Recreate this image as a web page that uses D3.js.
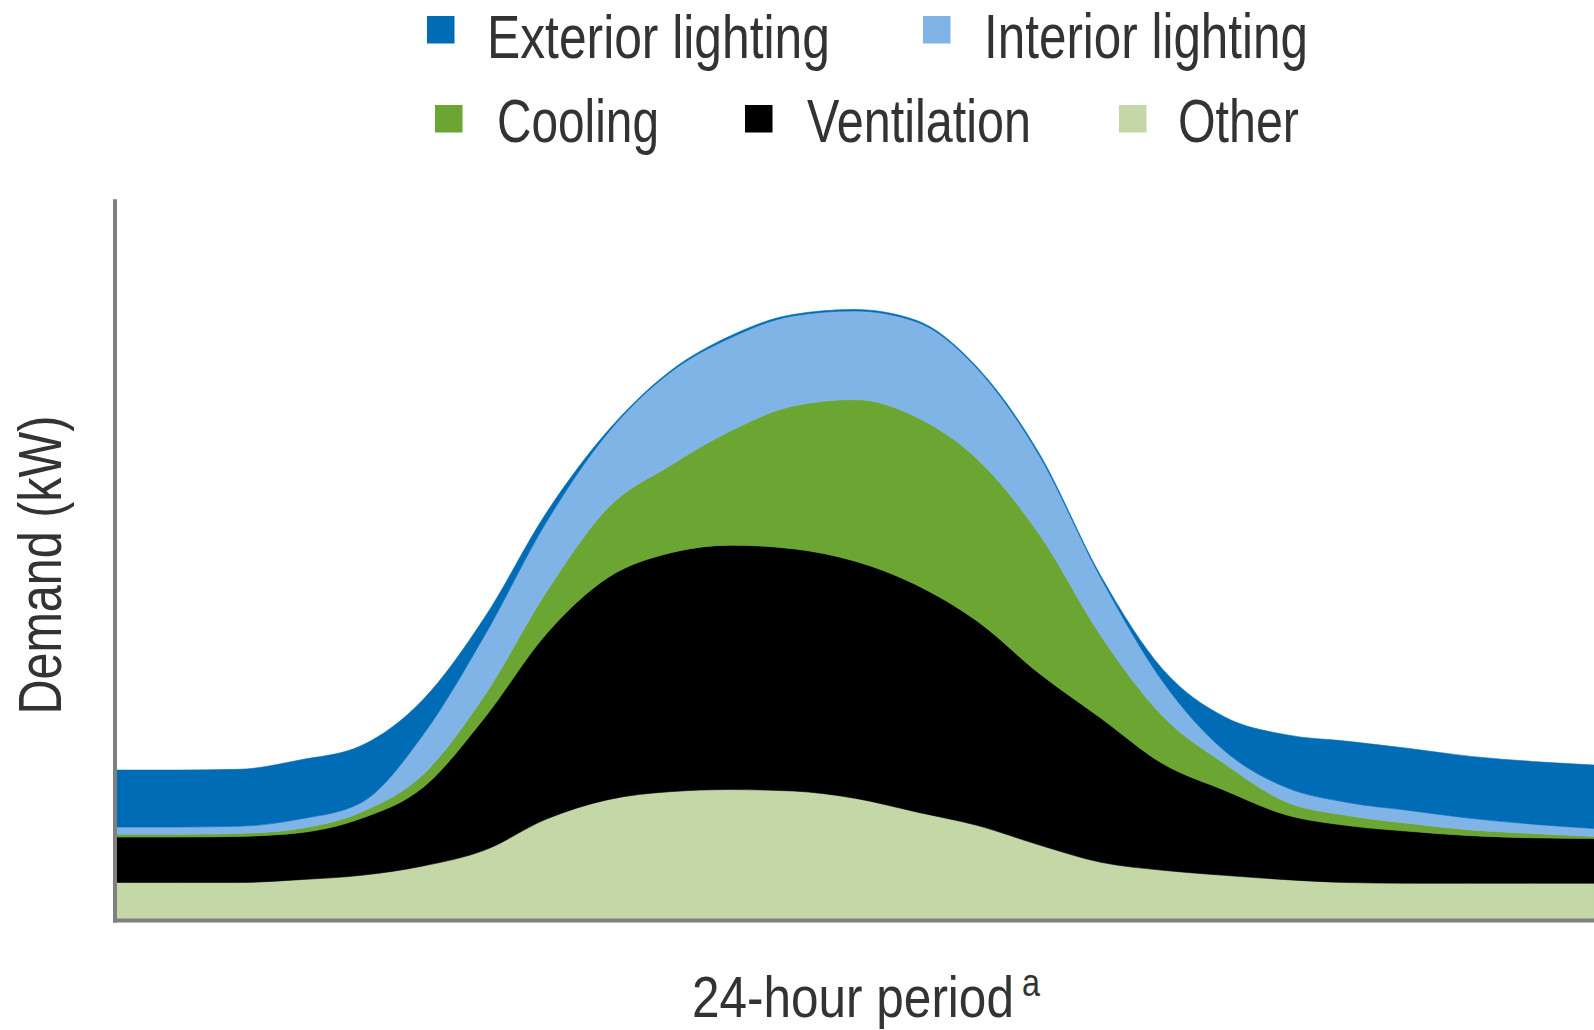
<!DOCTYPE html>
<html>
<head>
<meta charset="utf-8">
<script src="https://cdn.jsdelivr.net/npm/d3@7"></script>
<style>
  html, body { margin: 0; padding: 0; background: #fff; }
  svg { display: block; }
  text { font-family: "Liberation Sans Narrow", "Liberation Sans", Arial, sans-serif; fill: #333; }
</style>
</head>
<body>
<svg id="chart" width="1594" height="1030"></svg>
<script>
// ---- Data ----
const hours = [0,1,2,3,4,5,6,7,8,9,10,11,12,13,14,15,16,17,18,19,20,21,22,23,24];
const other            = [5.2,5.2,5.2,5.6,6.2,7.5,9.7,14.0,16.7,17.8,18.1,17.9,16.9,15.0,13.1,10.4,8.0,6.9,6.2,5.6,5.2,5.1,5.1,5.1,5.1];
const ventilation      = [6.3,6.3,6.4,6.5,7.9,10.9,18.4,25.7,30.8,33.1,33.9,33.6,32.9,31.5,28.3,23.8,20.0,14.8,11.8,9.0,7.9,7.2,6.6,6.3,6.2];
const cooling          = [0.4,0.4,0.4,0.6,0.9,1.8,3.1,5.8,9.7,12.1,15.9,19.8,22.4,23.3,22.5,19.3,11.4,6.6,3.7,1.8,1.4,1.1,0.8,0.6,0.3];
const interiorLighting = [1.0,1.0,1.0,1.3,1.3,5.5,8.3,9.7,10.4,12.9,12.9,12.5,12.3,13.2,12.5,10.9,8.0,4.8,1.8,2.0,1.8,1.8,1.6,1.3,1.1];
const exteriorLighting = [7.9,7.9,7.9,8.2,7.9,4.9,2.5,1.3,0.3,0.2,0.3,0.2,0.2,0.2,0.2,0.3,0.3,1.7,4.7,7.3,8.5,8.6,8.6,8.7,8.8];

const seriesKeys   = ["Other", "Ventilation", "Cooling", "Interior lighting", "Exterior lighting"];
const seriesColors = ["#c4d7a6", "#000000", "#6ca632", "#80b4e6", "#006cb5"];
const legendRow1 = ["Exterior lighting", "Interior lighting"];
const legendRow2 = ["Cooling", "Ventilation", "Other"];
const xAxisTitle = "24-hour period";
const xAxisNote = "a";
const yAxisTitle = "Demand (kW)";

// ---- Build table ----
const seriesValues = [other, ventilation, cooling, interiorLighting, exteriorLighting];
const table = hours.map((h, i) => {
  const row = { hour: h };
  seriesKeys.forEach((k, j) => { row[k] = seriesValues[j][i]; });
  return row;
});
const colorOf = d3.scaleOrdinal().domain(seriesKeys).range(seriesColors);

const svg = d3.select("#chart");

const x = d3.scaleLinear().domain([0, 24]).range([115, 1594]);
const y = d3.scaleLinear().domain([0, 100]).range([920, 199.2]);

const stacked = d3.stack().keys(seriesKeys)(table);
const area = d3.area()
  .x(d => x(d.data.hour))
  .y0(d => y(d[0]))
  .y1(d => y(d[1]))
  .curve(d3.curveMonotoneX);

svg.append("g")
  .selectAll("path")
  .data(stacked)
  .join("path")
  .attr("d", area)
  .attr("fill", d => colorOf(d.key))
  .attr("stroke", d => colorOf(d.key))
  .attr("stroke-width", 0.6);

// ---- Axes (lines only, no ticks) ----
const yAxis = d3.axisLeft(y).tickValues([]).tickSizeOuter(0);
const xAxis = d3.axisBottom(x).tickValues([]).tickSizeOuter(0);
const gy = svg.append("g").attr("transform", "translate(115,0)").call(yAxis);
gy.select(".domain").attr("stroke", "#808080").attr("stroke-width", 4)
  .attr("d", `M0,${y(100)}V${y(0) + 2.5}`);
const gx = svg.append("g").attr("transform", `translate(0,${y(0) + 0.5})`).call(xAxis);
gx.select(".domain").attr("stroke", "#808080").attr("stroke-width", 4)
  .attr("d", `M113,0H1594`);

// text fitted to a target width by horizontal scaling (condensed look)
function fitText(parent, str, size, tx, ty, targetW, rotate, anchor) {
  const t = parent.append("text").attr("x", 0).attr("y", 0)
    .attr("font-size", size).attr("text-anchor", anchor || "start").text(str);
  const w = t.node().getComputedTextLength();
  const s = targetW / w;
  t.attr("transform", `translate(${tx},${ty})${rotate ? ` rotate(${rotate})` : ""} scale(${s},1)`);
  return t;
}

// ---- Legend ----
const legendLayout = {
  "Exterior lighting": { sx: 427, sy: 16, tx: 487, ty: 57.5, len: 343 },
  "Interior lighting": { sx: 923, sy: 16, tx: 984, ty: 57.5, len: 324 },
  "Cooling":           { sx: 435, sy: 105, tx: 497, ty: 142, len: 162 },
  "Ventilation":       { sx: 745, sy: 105, tx: 807, ty: 142, len: 224 },
  "Other":             { sx: 1119, sy: 105, tx: 1178, ty: 142, len: 121 }
};
const legendItems = legendRow1.concat(legendRow2);
const lg = svg.append("g");
legendItems.forEach(name => {
  const L = legendLayout[name];
  lg.append("rect").attr("x", L.sx).attr("y", L.sy).attr("width", 27.5).attr("height", 27.5)
    .attr("fill", colorOf(name));
  fitText(lg, name, 62, L.tx, L.ty, L.len);
});

// ---- Axis titles ----
fitText(svg, yAxisTitle, 62, 61, 565, 299, -90, "middle");
fitText(svg, xAxisTitle, 58, 692, 1017, 322);
fitText(svg, xAxisNote, 38, 1022, 996, 18);
</script>
</body>
</html>
